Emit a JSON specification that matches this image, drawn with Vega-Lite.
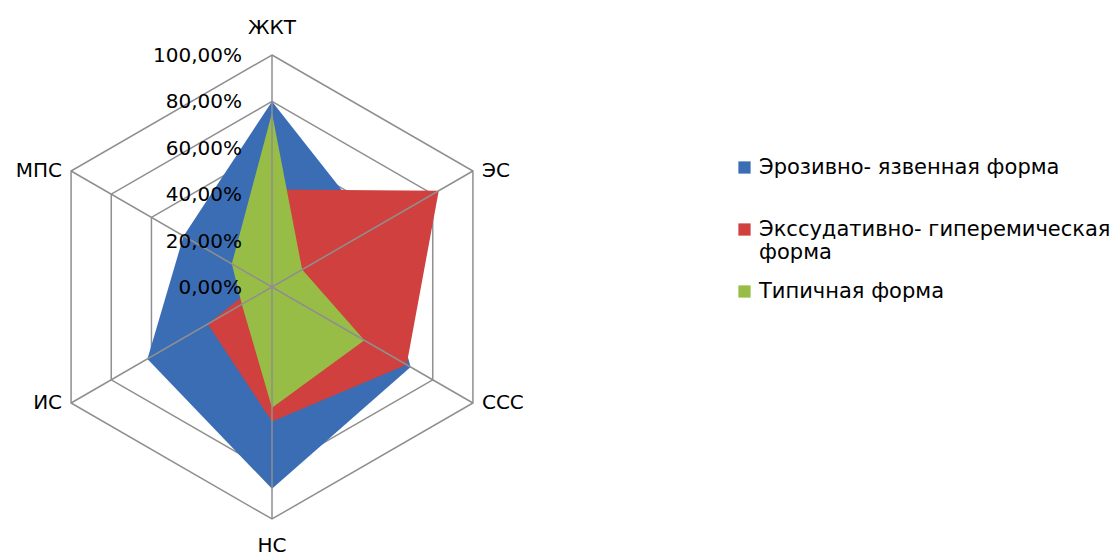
{
  "$schema": "https://vega.github.io/schema/vega-lite/v6.json",
  "width": 464,
  "height": 464,
  "autosize": {"type": "none"},
  "padding": {"left": 40, "top": 55, "right": 611, "bottom": 38},
  "background": "white",
  "config": {
    "view": {"stroke": null},
    "font": "DejaVu Sans",
    "locale": {"number": {"decimal": ",", "thousands": " ", "grouping": [3], "currency": ["", " ₽"]}}
  },
  "datasets": {
    "series": [
      {"series": "Эрозивно- язвенная форма", "cat": "ЖКТ", "value": 0.80},
      {"series": "Эрозивно- язвенная форма", "cat": "ЭС", "value": 0.50},
      {"series": "Эрозивно- язвенная форма", "cat": "ССС", "value": 0.69},
      {"series": "Эрозивно- язвенная форма", "cat": "НС", "value": 0.87},
      {"series": "Эрозивно- язвенная форма", "cat": "ИС", "value": 0.62},
      {"series": "Эрозивно- язвенная форма", "cat": "МПС", "value": 0.44},
      {"series": "Экссудативно- гиперемическая форма", "cat": "ЖКТ", "value": 0.42},
      {"series": "Экссудативно- гиперемическая форма", "cat": "ЭС", "value": 0.83},
      {"series": "Экссудативно- гиперемическая форма", "cat": "ССС", "value": 0.67},
      {"series": "Экссудативно- гиперемическая форма", "cat": "НС", "value": 0.58},
      {"series": "Экссудативно- гиперемическая форма", "cat": "ИС", "value": 0.32},
      {"series": "Экссудативно- гиперемическая форма", "cat": "МПС", "value": 0.05},
      {"series": "Типичная форма", "cat": "ЖКТ", "value": 0.75},
      {"series": "Типичная форма", "cat": "ЭС", "value": 0.15},
      {"series": "Типичная форма", "cat": "ССС", "value": 0.46},
      {"series": "Типичная форма", "cat": "НС", "value": 0.52},
      {"series": "Типичная форма", "cat": "ИС", "value": 0.15},
      {"series": "Типичная форма", "cat": "МПС", "value": 0.20}
    ],
    "axes": [
      {"cat": "ЖКТ", "levels": [0, 0.2, 0.4, 0.6, 0.8, 1]},
      {"cat": "ЭС", "levels": [0, 0.2, 0.4, 0.6, 0.8, 1]},
      {"cat": "ССС", "levels": [0, 0.2, 0.4, 0.6, 0.8, 1]},
      {"cat": "НС", "levels": [0, 0.2, 0.4, 0.6, 0.8, 1]},
      {"cat": "ИС", "levels": [0, 0.2, 0.4, 0.6, 0.8, 1]},
      {"cat": "МПС", "levels": [0, 0.2, 0.4, 0.6, 0.8, 1]}
    ]
  },
  "encoding": {
    "x": {"field": "x", "type": "quantitative", "scale": {"domain": [-1, 1], "nice": false, "zero": false}, "axis": null},
    "y": {"field": "y", "type": "quantitative", "scale": {"domain": [-1, 1], "nice": false, "zero": false}, "axis": null}
  },
  "layer": [
    {
      "data": {"name": "axes"},
      "transform": [
        {"flatten": ["levels"], "as": ["level"]},
        {"filter": "datum.level > 0"},
        {"calculate": "indexof(['ЖКТ','ЭС','ССС','НС','ИС','МПС'], datum.cat)", "as": "i"},
        {"calculate": "datum.level*sin(datum.i*PI/3)", "as": "x"},
        {"calculate": "datum.level*cos(datum.i*PI/3)", "as": "y"}
      ],
      "mark": {"type": "line", "interpolate": "linear-closed", "stroke": "#8F8F8F", "strokeWidth": 1.5},
      "encoding": {
        "detail": {"field": "level", "type": "nominal"},
        "order": {"field": "i", "type": "quantitative"}
      }
    },
    {
      "data": {"name": "series"},
      "transform": [
        {"filter": "datum.series == 'Эрозивно- язвенная форма'"},
        {"calculate": "indexof(['ЖКТ','ЭС','ССС','НС','ИС','МПС'], datum.cat)", "as": "i"},
        {"calculate": "datum.value*sin(datum.i*PI/3)", "as": "x"},
        {"calculate": "datum.value*cos(datum.i*PI/3)", "as": "y"}
      ],
      "mark": {"type": "line", "interpolate": "linear-closed", "strokeWidth": 0},
      "encoding": {
        "order": {"field": "i", "type": "quantitative"},
        "fill": {
          "field": "series", "type": "nominal",
          "scale": {"domain": ["Эрозивно- язвенная форма", "Экссудативно- гиперемическая форма", "Типичная форма"], "range": ["#3B6DB5", "#CF403E", "#98BD47"]},
          "legend": {
            "title": null,
            "orient": "none",
            "legendX": 694,
            "legendY": 102,
            "padding": 0,
            "symbolType": "square",
            "symbolSize": 150,
            "symbolStrokeWidth": 0,
            "labelFont": "DejaVu Sans",
            "labelFontSize": 21,
            "labelColor": "black",
            "labelLimit": 0,
            "labelOffset": 4,
            "labelBaseline": "middle",
            "rowPadding": 17,
            "labelExpr": "datum.label == 'Экссудативно- гиперемическая форма' ? ['Экссудативно- гиперемическая', 'форма'] : datum.label == 'Эрозивно- язвенная форма' ? ['Эрозивно- язвенная форма', ' '] : datum.label"
          }
        }
      }
    },
    {
      "data": {"name": "series"},
      "transform": [
        {"filter": "datum.series == 'Экссудативно- гиперемическая форма'"},
        {"calculate": "indexof(['ЖКТ','ЭС','ССС','НС','ИС','МПС'], datum.cat)", "as": "i"},
        {"calculate": "datum.value*sin(datum.i*PI/3)", "as": "x"},
        {"calculate": "datum.value*cos(datum.i*PI/3)", "as": "y"}
      ],
      "mark": {"type": "line", "interpolate": "linear-closed", "strokeWidth": 0},
      "encoding": {
        "order": {"field": "i", "type": "quantitative"},
        "fill": {"field": "series", "type": "nominal"}
      }
    },
    {
      "data": {"name": "series"},
      "transform": [
        {"filter": "datum.series == 'Типичная форма'"},
        {"calculate": "indexof(['ЖКТ','ЭС','ССС','НС','ИС','МПС'], datum.cat)", "as": "i"},
        {"calculate": "datum.value*sin(datum.i*PI/3)", "as": "x"},
        {"calculate": "datum.value*cos(datum.i*PI/3)", "as": "y"}
      ],
      "mark": {"type": "line", "interpolate": "linear-closed", "strokeWidth": 0},
      "encoding": {
        "order": {"field": "i", "type": "quantitative"},
        "fill": {"field": "series", "type": "nominal"}
      }
    },
    {
      "data": {"name": "axes"},
      "transform": [
        {"calculate": "indexof(['ЖКТ','ЭС','ССС','НС','ИС','МПС'], datum.cat)", "as": "i"},
        {"calculate": "sin(datum.i*PI/3)", "as": "x"},
        {"calculate": "cos(datum.i*PI/3)", "as": "y"},
        {"calculate": "0", "as": "x0"},
        {"calculate": "0", "as": "y0"}
      ],
      "mark": {"type": "rule", "stroke": "#8F8F8F", "strokeWidth": 1.5},
      "encoding": {
        "x2": {"field": "x0"},
        "y2": {"field": "y0"}
      }
    },
    {
      "data": {"name": "axes"},
      "transform": [
        {"filter": "datum.cat == 'ЖКТ'"},
        {"flatten": ["levels"], "as": ["level"]},
        {"calculate": "0", "as": "x"},
        {"calculate": "datum.level", "as": "y"}
      ],
      "mark": {"type": "text", "align": "right", "baseline": "middle", "dx": -30, "dy": 1, "fontSize": 20, "font": "DejaVu Sans", "color": "black"},
      "encoding": {
        "text": {"field": "level", "type": "quantitative", "format": ".2%"}
      }
    },
    {
      "data": {"name": "axes"},
      "transform": [
        {"filter": "datum.cat == 'ЖКТ'"},
        {"calculate": "0", "as": "x"},
        {"calculate": "1", "as": "y"}
      ],
      "mark": {"type": "text", "align": "center", "baseline": "middle", "dy": -27, "fontSize": 20, "font": "DejaVu Sans", "color": "black"},
      "encoding": {"text": {"field": "cat"}}
    },
    {
      "data": {"name": "axes"},
      "transform": [
        {"filter": "datum.cat == 'НС'"},
        {"calculate": "0", "as": "x"},
        {"calculate": "-1", "as": "y"}
      ],
      "mark": {"type": "text", "align": "center", "baseline": "middle", "dy": 27, "fontSize": 20, "font": "DejaVu Sans", "color": "black"},
      "encoding": {"text": {"field": "cat"}}
    },
    {
      "data": {"name": "axes"},
      "transform": [
        {"filter": "datum.cat == 'ЭС' || datum.cat == 'ССС'"},
        {"calculate": "indexof(['ЖКТ','ЭС','ССС','НС','ИС','МПС'], datum.cat)", "as": "i"},
        {"calculate": "sin(datum.i*PI/3)", "as": "x"},
        {"calculate": "cos(datum.i*PI/3)", "as": "y"}
      ],
      "mark": {"type": "text", "align": "left", "baseline": "middle", "dx": 9, "fontSize": 20, "font": "DejaVu Sans", "color": "black"},
      "encoding": {"text": {"field": "cat"}}
    },
    {
      "data": {"name": "axes"},
      "transform": [
        {"filter": "datum.cat == 'МПС' || datum.cat == 'ИС'"},
        {"calculate": "indexof(['ЖКТ','ЭС','ССС','НС','ИС','МПС'], datum.cat)", "as": "i"},
        {"calculate": "sin(datum.i*PI/3)", "as": "x"},
        {"calculate": "cos(datum.i*PI/3)", "as": "y"}
      ],
      "mark": {"type": "text", "align": "right", "baseline": "middle", "dx": -9, "fontSize": 20, "font": "DejaVu Sans", "color": "black"},
      "encoding": {"text": {"field": "cat"}}
    }
  ]
}
